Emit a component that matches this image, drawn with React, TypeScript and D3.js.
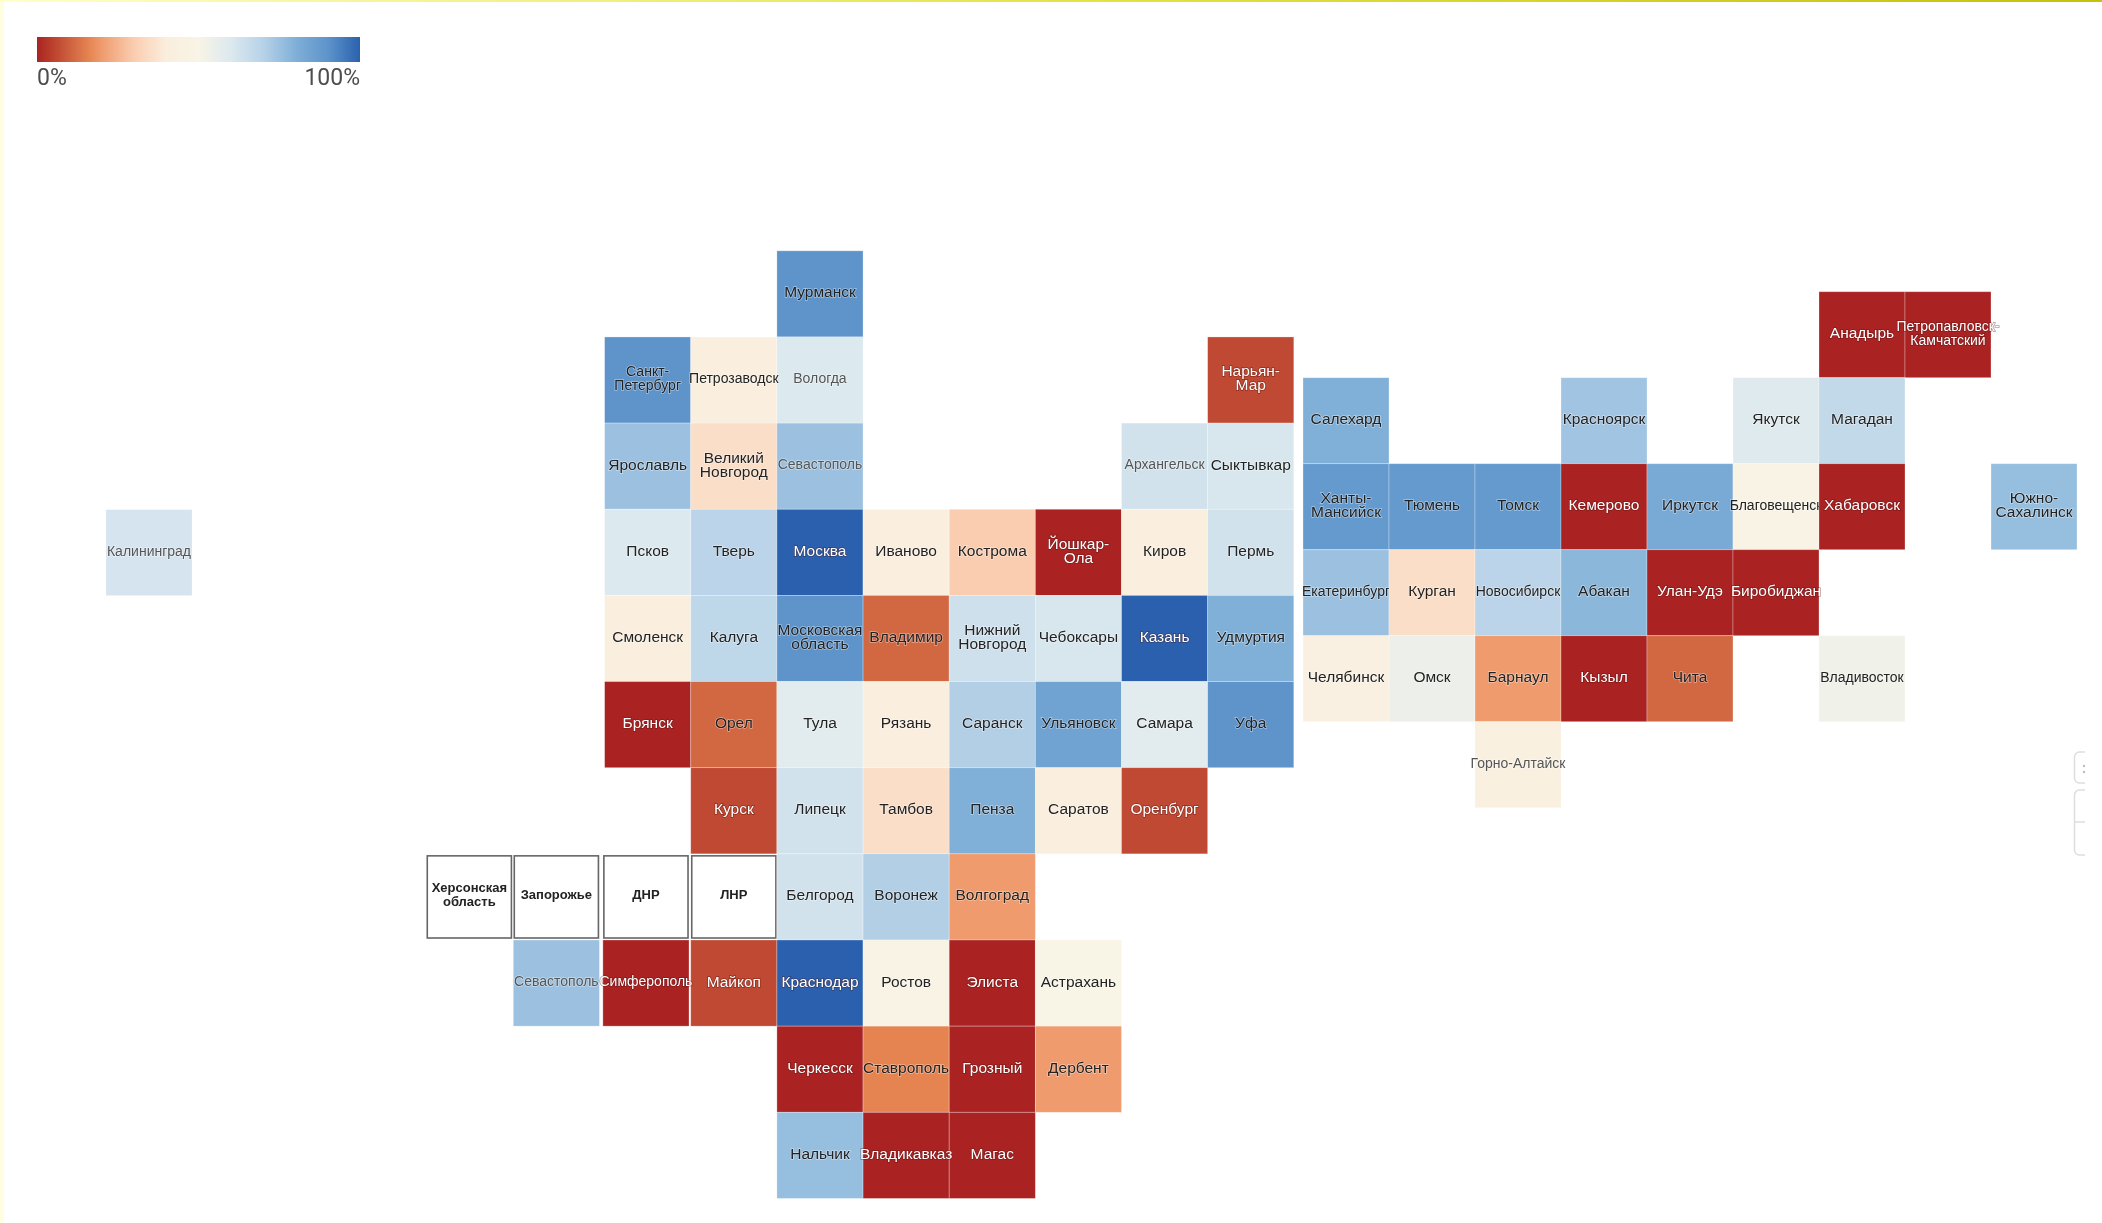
import { useRef, useEffect } from 'react';
import * as d3 from 'd3';

// color legend
const colorDomain = [0, 0.06, 0.11, 0.16, 0.2, 0.3, 0.4, 0.5, 0.6, 0.7, 0.8, 0.9, 1];
const colorRange = ['#ab2323', '#bf4831', '#d16743', '#e58451', '#ef9b6d', '#facdb0', '#faeedd', '#f8f4e6', '#dce9ef', '#b7d2e8', '#80b0d8', '#5e94cb', '#2a61ae'];
const legendLabels = ['0%', '100%'];

// western block
const mainCities = [
  'Мурманск',
  'Санкт-\nПетербург', 'Петрозаводск', 'Вологда', 'Нарьян-\nМар',
  'Ярославль', 'Великий\nНовгород', 'Севастополь', 'Архангельск', 'Сыктывкар',
  'Псков', 'Тверь', 'Москва', 'Иваново', 'Кострома', 'Йошкар-\nОла', 'Киров', 'Пермь',
  'Смоленск', 'Калуга', 'Московская\nобласть', 'Владимир', 'Нижний\nНовгород', 'Чебоксары', 'Казань', 'Удмуртия',
  'Брянск', 'Орел', 'Тула', 'Рязань', 'Саранск', 'Ульяновск', 'Самара', 'Уфа',
  'Курск', 'Липецк', 'Тамбов', 'Пенза', 'Саратов', 'Оренбург',
  'Херсонская\nобласть', 'Запорожье', 'ДНР', 'ЛНР', 'Белгород', 'Воронеж', 'Волгоград',
  'Севастополь', 'Симферополь', 'Майкоп', 'Краснодар', 'Ростов', 'Элиста', 'Астрахань',
  'Черкесск', 'Ставрополь', 'Грозный', 'Дербент',
  'Нальчик', 'Владикавказ', 'Магас',
];
const mainValues = [
  0.9,
  0.9, 0.42, 0.6, 0.06,
  0.75, 0.35, 0.75, 0.63, 0.61,
  0.6, 0.69, 1, 0.41, 0.3, 0, 0.42, 0.63,
  0.42, 0.68, 0.9, 0.11, 0.64, 0.61, 1, 0.8,
  0, 0.11, 0.58, 0.42, 0.71, 0.85, 0.58, 0.9,
  0.06, 0.63, 0.35, 0.8, 0.42, 0.06,
  null, null, null, null, 0.63, 0.71, 0.2,
  0.75, 0, 0.06, 1, 0.48, 0, 0.5,
  0, 0.16, 0, 0.2,
  0.76, 0, 0,
];
const mainCols = [
  2,
  0, 1, 2, 7,
  0, 1, 2, 6, 7,
  0, 1, 2, 3, 4, 5, 6, 7,
  0, 1, 2, 3, 4, 5, 6, 7,
  0, 1, 2, 3, 4, 5, 6, 7,
  1, 2, 3, 4, 5, 6,
  -2.07, -1.06, -0.02, 1, 2, 3, 4,
  -1.06, -0.02, 1, 2, 3, 4, 5,
  2, 3, 4, 5,
  2, 3, 4,
];
const mainRows = [
  0,
  1, 1, 1, 1,
  2, 2, 2, 2, 2,
  3, 3, 3, 3, 3, 3, 3, 3,
  4, 4, 4, 4, 4, 4, 4, 4,
  5, 5, 5, 5, 5, 5, 5, 5,
  6, 6, 6, 6, 6, 6,
  7, 7, 7, 7, 7, 7, 7,
  8, 8, 8, 8, 8, 8, 8,
  9, 9, 9, 9,
  10, 10, 10,
];

// eastern block
const eastCities = [
  'Анадырь', 'Петропавловск-\nКамчатский',
  'Салехард', 'Красноярск', 'Якутск', 'Магадан',
  'Ханты-\nМансийск', 'Тюмень', 'Томск', 'Кемерово', 'Иркутск', 'Благовещенск', 'Хабаровск', 'Южно-\nСахалинск',
  'Екатеринбург', 'Курган', 'Новосибирск', 'Абакан', 'Улан-Удэ', 'Биробиджан',
  'Челябинск', 'Омск', 'Барнаул', 'Кызыл', 'Чита', 'Владивосток',
  'Горно-Алтайск',
];
const eastValues = [
  0, 0,
  0.8, 0.74, 0.59, 0.67,
  0.88, 0.88, 0.88, 0, 0.82, 0.48, 0, 0.76,
  0.75, 0.35, 0.69, 0.78, 0, 0,
  0.44, 0.54, 0.2, 0, 0.11, 0.53,
  0.43,
];
const eastCols = [
  6, 7,
  0, 3, 5, 6,
  0, 1, 2, 3, 4, 5, 6, 8,
  0, 1, 2, 3, 4, 5,
  0, 1, 2, 3, 4, 6,
  2,
];
const eastRows = [
  0, 0,
  1, 1, 1, 1,
  2, 2, 2, 2, 2, 2, 2, 2,
  3, 3, 3, 3, 3, 3,
  4, 4, 4, 4, 4, 4,
  5,
];

// exclave
const westCities = ['Калининград'];
const westValues = [0.62];

const smallLabels = new Set([
  'Вологда', 'Севастополь', 'Архангельск', 'Калининград', 'Петрозаводск', 'Горно-Алтайск', 'Симферополь',
  'Владивосток', 'Благовещенск', 'Екатеринбург', 'Новосибирск', 'Санкт-\nПетербург', 'Петропавловск-\nКамчатский',
]);
const fadedLabels = new Set(['Вологда', 'Севастополь', 'Калининград', 'Горно-Алтайск', 'Архангельск']);

export default function App() {
  const svgRef = useRef<SVGSVGElement>(null);

  useEffect(() => {
    if (!svgRef.current) return;
    const svg = d3.select(svgRef.current);
    svg.selectAll('*').remove();

    const width = 2102;
    const height = 1223;
    svg.attr('viewBox', `0 0 ${width} ${height}`);

    const color = d3.scaleLinear<string>().domain(colorDomain).range(colorRange);

    const defs = svg.append('defs');
    defs.append('filter').attr('id', 'soft')
      .append('feGaussianBlur').attr('stdDeviation', 0.55);

    const topGrad = defs.append('linearGradient').attr('id', 'topEdge');
    topGrad.append('stop').attr('offset', '0%').attr('stop-color', '#ffffc8');
    topGrad.append('stop').attr('offset', '50%').attr('stop-color', '#e6e34a');
    topGrad.append('stop').attr('offset', '100%').attr('stop-color', '#c4c20a');

    const legendGrad = defs.append('linearGradient').attr('id', 'legendGrad');
    colorDomain.forEach((d, i) => {
      legendGrad.append('stop').attr('offset', `${d * 100}%`).attr('stop-color', colorRange[i]);
    });

    defs.append('clipPath').attr('id', 'widgetClip')
      .append('rect').attr('x', 2060).attr('y', 740).attr('width', 25).attr('height', 130);

    // Page edges
    svg.append('rect').attr('width', width).attr('height', height).attr('fill', '#fff');
    svg.append('rect').attr('width', 4).attr('height', height).attr('fill', '#ffffe0');
    svg.append('rect').attr('width', width).attr('height', 2).attr('fill', 'url(#topEdge)');

    const root = svg.append('g').attr('filter', 'url(#soft)');

    // Legend
    const legendX = d3.scaleLinear().domain([0, 1]).range([37, 360]);
    root.append('rect')
      .attr('x', legendX(0)).attr('y', 37)
      .attr('width', legendX(1) - legendX(0)).attr('height', 25)
      .attr('fill', 'url(#legendGrad)');
    legendLabels.forEach((label, i) => {
      root.append('text')
        .attr('x', legendX(i)).attr('y', 85)
        .attr('text-anchor', i === 0 ? 'start' : 'end')
        .attr('fill', '#4d4d4d')
        .style('font-family', 'Roboto, sans-serif')
        .style('font-size', '23px')
        .text(label);
    });

    const cellGroup = (
      cities: string[],
      values: (number | null)[],
      cols: number[],
      rows: number[],
      originX: number,
      originY: number,
      step: number,
      labelsOnTop: boolean,
    ) => {
      const x = d3.scaleLinear().domain([0, 1]).range([originX, originX + step]);
      const y = d3.scaleLinear().domain([0, 1]).range([originY, originY + step]);
      const g = root.append('g');
      // in the east a long label gets cut by the next cell, as in the source
      const labels = labelsOnTop ? root.append('g') : g;

      cities.forEach((city, i) => {
        const v = values[i];
        const x0 = x(cols[i]);
        const y0 = y(rows[i]);
        if (v === null) {
          g.append('rect')
            .attr('x', x0 + 1).attr('y', y0 + 2)
            .attr('width', step - 2).attr('height', step - 4)
            .attr('fill', '#fff')
            .attr('stroke', '#666').attr('stroke-width', 1.6);
        } else {
          g.append('rect')
            .attr('x', x0).attr('y', y0)
            .attr('width', step).attr('height', step)
            .attr('fill', color(v))
            .attr('stroke', '#fff').attr('stroke-opacity', 0.35).attr('stroke-width', 0.8);
        }

        const lines = city.split('\n');
        const isLight = v !== null && (v < 0.08 || v > 0.97);
        const fontSize = v === null ? 13 : smallLabels.has(city) ? 14 : 15.5;
        const lineH = 14;
        const text = labels.append('text')
          .attr('text-anchor', 'middle')
          .attr('fill', isLight ? '#fff' : fadedLabels.has(city) ? '#555' : '#222')
          .attr('stroke', isLight ? '#4a1010' : '#fff')
          .attr('stroke-opacity', v === null ? 0 : 0.45)
          .attr('stroke-width', 1.4)
          .attr('paint-order', 'stroke')
          .style('font-family', '"Liberation Sans", Arial, sans-serif')
          .style('font-size', `${fontSize}px`)
          .style('font-weight', v === null ? 700 : 400);
        lines.forEach((line, j) => {
          text.append('tspan')
            .attr('x', x0 + step / 2)
            .attr('y', y0 + step / 2 - 2 + fontSize * 0.35 + (j - (lines.length - 1) / 2) * lineH)
            .text(line);
        });
      });
    };

    cellGroup(mainCities, mainValues, mainCols, mainRows, 604.6, 250.8, 86.15, true);
    cellGroup(eastCities, eastValues, eastCols, eastRows, 1303, 291.7, 86, false);
    cellGroup(westCities, westValues, [0], [0], 106, 509.6, 86, true);

    // Clipped viewer controls on the right edge
    const widgets = root.append('g').attr('clip-path', 'url(#widgetClip)');
    widgets.append('rect')
      .attr('x', 2074.5).attr('y', 752).attr('width', 40).attr('height', 31).attr('rx', 5)
      .attr('fill', 'none').attr('stroke', '#dedede').attr('stroke-width', 1.5);
    widgets.append('rect')
      .attr('x', 2074.5).attr('y', 790).attr('width', 40).attr('height', 65).attr('rx', 5)
      .attr('fill', 'none').attr('stroke', '#dedede').attr('stroke-width', 1.5);
    widgets.append('line')
      .attr('x1', 2074).attr('x2', 2085).attr('y1', 822).attr('y2', 822)
      .attr('stroke', '#dedede').attr('stroke-width', 1.5);
    [766, 772].forEach((cy) => {
      widgets.append('circle').attr('cx', 2084).attr('cy', cy).attr('r', 1.2).attr('fill', '#bbb');
    });
  }, []);

  return (
    <svg
      ref={svgRef}
      width={2102}
      height={1223}
      style={{ position: 'absolute', left: 0, top: 0, display: 'block' }}
    />
  );
}
